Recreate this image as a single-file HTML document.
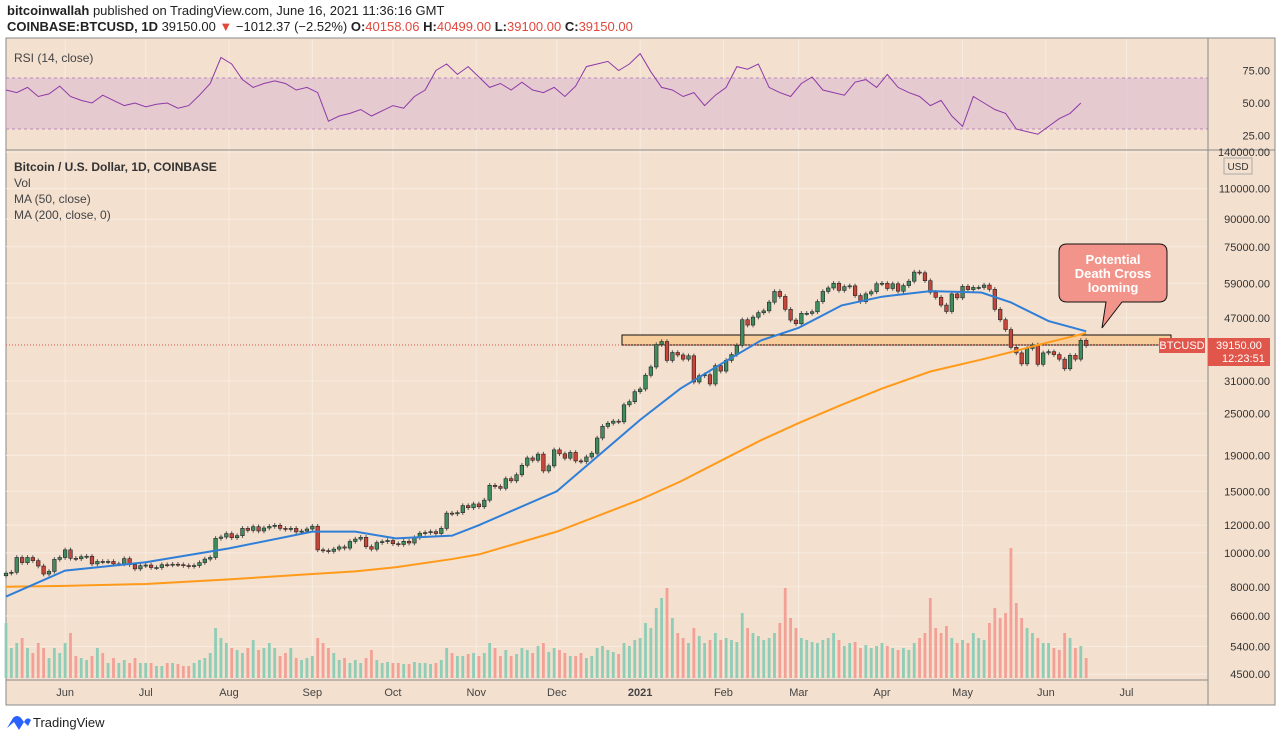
<!DOCTYPE html>
<html><head><meta charset="utf-8"><style>
body{margin:0;background:#fff;font-family:"Liberation Sans",sans-serif;}
svg text{font-family:"Liberation Sans",sans-serif;}
</style></head><body>
<svg id="c" width="1280" height="740" viewBox="0 0 1280 740" xmlns="http://www.w3.org/2000/svg">
<rect x="0" y="0" width="1280" height="740" fill="#fff"/>
<text x="7" y="15" font-size="13" fill="#222"><tspan font-weight="bold">bitcoinwallah</tspan> published on TradingView.com, June 16, 2021 11:36:16 GMT</text>
<text x="7" y="31" font-size="13" fill="#222"><tspan font-weight="bold">COINBASE:BTCUSD, 1D</tspan> 39150.00 <tspan fill="#e0483c">▼</tspan> −1012.37 (−2.52%) <tspan font-weight="bold">O:</tspan><tspan fill="#e0483c">40158.06</tspan> <tspan font-weight="bold">H:</tspan><tspan fill="#e0483c">40499.00</tspan> <tspan font-weight="bold">L:</tspan><tspan fill="#e0483c">39100.00</tspan> <tspan font-weight="bold">C:</tspan><tspan fill="#e0483c">39150.00</tspan></text>
<rect x="6" y="38" width="1269" height="667" fill="#f3e0cf" stroke="#8a8a8a"/>
<g id="grid"></g>
<rect x="6" y="78" width="1202" height="51" fill="#d9b8d0" opacity="0.55"/>
<line x1="6" y1="78" x2="1208" y2="78" stroke="#b98bb8" stroke-dasharray="3,3"/>
<line x1="6" y1="129" x2="1208" y2="129" stroke="#b98bb8" stroke-dasharray="3,3"/>
<line x1="6" y1="150" x2="1275" y2="150" stroke="#8a8a8a"/>
<line x1="1208" y1="38" x2="1208" y2="705" stroke="#8a8a8a"/>
<line x1="6" y1="680" x2="1208" y2="680" stroke="#8a8a8a"/>
<text x="14" y="62" font-size="12" fill="#444">RSI (14, close)</text>
<text x="14" y="171" font-size="12" fill="#333" font-weight="bold">Bitcoin / U.S. Dollar, 1D, COINBASE</text>
<text x="14" y="187" font-size="12" fill="#444">Vol</text>
<text x="14" y="203" font-size="12" fill="#444">MA (50, close)</text>
<text x="14" y="219" font-size="12" fill="#444">MA (200, close, 0)</text>
<g id="vol"></g>
<rect x="622" y="335" width="549" height="10" fill="#f8cd9c" stroke="#111"/>
<line x1="6" y1="345" x2="1160" y2="345" stroke="#d9534a" stroke-dasharray="1,2"/>
<g id="candles"></g>
<polyline id="ma200" fill="none" stroke="#ff9a1a" stroke-width="2"/>
<polyline id="ma50" fill="none" stroke="#2f7fd8" stroke-width="2"/>
<polyline id="rsi" fill="none" stroke="#8e3aa8" stroke-width="1"/>
<g id="axis"></g>
<g>
<path d="M1067,244 H1159 Q1167,244 1167,252 V294 Q1167,302 1159,302 H1122 L1102,328 L1106,302 H1067 Q1059,302 1059,294 V252 Q1059,244 1067,244 Z" fill="#f2948a" stroke="#111"/>
<text x="1113" y="264" font-size="13" font-weight="bold" fill="#fff" text-anchor="middle">Potential</text>
<text x="1113" y="278" font-size="13" font-weight="bold" fill="#fff" text-anchor="middle">Death Cross</text>
<text x="1113" y="292" font-size="13" font-weight="bold" fill="#fff" text-anchor="middle">looming</text>
</g>
<rect x="1159" y="338" width="46" height="15" fill="#e0564a"/>
<text x="1182" y="349" font-size="11" fill="#fff" text-anchor="middle">BTCUSD</text>
<rect x="1208" y="338" width="62" height="28" fill="#e0564a"/>
<text x="1216" y="349" font-size="11" fill="#fff">39150.00</text>
<text x="1222" y="362" font-size="11" fill="#fff">12:23:51</text>
<rect x="1224" y="158" width="28" height="16" fill="#f3e0cf" stroke="#aaa"/>
<text x="1238" y="170" font-size="10" fill="#333" text-anchor="middle">USD</text>
<g>
<path d="M7,728 L13,718 Q17,714 21,718 L24,722 Q27,716 31,720 L28,726 L24,722 L19,730 L14,722 Z" fill="#2962ff"/>
<text x="33" y="727" font-size="13" fill="#222">TradingView</text>
</g>
</svg>
<script>
const closes=[8750,8800,9700,9380,9700,9500,9170,8700,8850,9580,9700,
10200,9650,9620,9750,9780,9300,9450,9430,9450,9300,9300,9630,9250,9000,9190,
9230,9080,9080,9250,9240,9280,9250,9200,9150,9200,9380,9600,9700,11000,11100,11350,
11050,11200,11750,11600,11880,11550,11780,11900,11990,11750,11680,11750,11480,11540,11700,
11920,10200,10150,10100,10250,10400,10320,10780,10950,11080,10420,10250,10700,10770,10850,
10620,10570,10790,10670,11060,11380,11430,11500,11360,11750,12990,12930,13030,13650,13460,13800,
13550,14150,15600,15480,15300,16300,16070,16720,17800,18680,18400,19160,17150,17730,19700,
19200,18650,19370,18320,18250,18800,19270,21300,23000,23480,23800,23700,26500,27050,28900,
29400,32200,34000,39400,40200,35500,37400,36800,35800,36600,30800,32100,32300,30400,34300,33100,
35500,36900,39200,46400,44800,47200,48600,49200,52100,55900,54100,49700,46300,45200,
48400,48400,48900,52300,55900,57200,59000,56300,57700,58000,54400,52300,55000,55800,58800,
59000,57000,58800,56000,58100,59800,63500,63200,60000,55600,53800,51100,49000,55000,53600,
57800,56600,57400,57400,58300,56700,49700,46400,43500,38700,37300,34700,38400,39300,34600,37300,
37600,36900,35800,33600,36700,35800,40500,39150];
const volumes=[55,30,35,40,30,25,35,30,20,30,25,
35,45,22,20,18,22,30,25,15,20,15,18,15,20,15,
15,15,12,12,15,15,14,12,12,15,18,20,25,50,40,35,
30,28,25,30,38,28,30,35,30,22,25,30,20,18,20,
22,40,35,30,25,18,20,15,18,15,20,28,18,15,16,
15,15,14,14,16,15,15,14,15,18,30,25,22,22,24,25,
22,25,35,30,22,28,22,24,30,28,25,32,35,26,30,
28,25,22,22,25,20,22,30,32,28,26,24,35,32,38,
40,55,50,70,80,90,60,45,40,35,50,42,35,38,45,38,
40,38,36,65,50,45,42,38,40,45,55,90,60,50,
40,38,36,35,38,40,45,38,32,35,36,30,33,30,32,
35,32,30,28,30,28,35,40,45,80,50,45,52,40,35,
38,35,45,40,38,55,70,60,65,130,75,60,50,45,40,35,
35,30,28,45,40,30,32,20];
const rsiValues=[60,58,62,55,57,63,55,52,50,56,52,48,50,47,49,50,46,48,56,65,
85,80,68,62,65,67,65,60,62,58,36,40,42,45,40,44,48,46,55,60,
75,80,72,78,70,62,65,60,66,60,58,62,55,63,78,80,82,75,80,88,
74,62,60,55,58,48,56,62,78,76,80,62,58,55,65,70,60,58,56,66,
68,62,72,62,58,55,48,52,40,32,55,50,45,42,30,28,26,32,38,42,50];
const maDays=[0,22,52,83,114,130,145,166,176,205,236,251,267,281,295,311,326,344,363,374,388,402];
const ma50=[7500,8900,9400,10300,11500,11500,11000,11200,12000,15000,24000,29500,35000,40500,44000,51000,54000,56000,55500,52000,46000,43000];
const ma200=[8000,8050,8150,8400,8700,8850,9100,9600,9900,11500,14200,16000,18500,21000,23500,26500,29500,33000,35700,37500,40000,42500];
const priceTicks=[140000,110000,90000,75000,59000,47000,31000,25000,19000,15000,12000,10000,8000,6600,5400,4500];
const rsiTicks=[75,50,25];
const monthLabels=["Jun","Jul","Aug","Sep","Oct","Nov","Dec","2021","Feb","Mar","Apr","May","Jun","Jul"];
const monthDays=[22,52,83,114,144,175,205,236,267,295,326,356,387,417];

const NS="http://www.w3.org/2000/svg";
const xScale=d=>6+d*2.687;
const yScale=p=>152+(Math.log(140000)-Math.log(p))*151.9;
const rsiY=v=>103-(v-50)*1.3;
const volY=v=>678-v;
function mk(tag,attrs,parent){const e=document.createElementNS(NS,tag);for(const k in attrs)e.setAttribute(k,attrs[k]);parent.appendChild(e);return e;}
const grid=document.getElementById('grid'),axis=document.getElementById('axis');
monthDays.forEach((d,i)=>{
  const g=mk('line',{x1:xScale(d),x2:xScale(d),y1:39,y2:680,stroke:'#f8ece1','stroke-width':1},grid);
  
  
  const t=mk('text',{x:xScale(d),y:696,'font-size':11,fill:'#444','text-anchor':'middle'},axis);
  if(monthLabels[i]==='2021')t.setAttribute('font-weight','bold');
  t.textContent=monthLabels[i];
  
  
});
priceTicks.forEach(p=>{
  const y=yScale(p);
  const g=mk('line',{x1:6,x2:1208,y1:y,y2:y,stroke:'#f8ece1'},grid);
  
  
  const t=mk('text',{x:1270,y:y+4,'font-size':11,fill:'#333','text-anchor':'end'},axis);
  t.textContent=p.toFixed(2);
  
  
});
rsiTicks.forEach(v=>{
  const t=mk('text',{x:1270,y:rsiY(v)+4,'font-size':11,fill:'#333','text-anchor':'end'},axis);
  t.textContent=v.toFixed(2);
  
  
});
const cg=document.getElementById('candles'),vg=document.getElementById('vol');
closes.forEach((c,i)=>{
  const o=i?closes[i-1]:8600;
  const up=c>=o;
  const x=xScale(i*2);
  const hi=Math.max(o,c)*1.015,lo=Math.min(o,c)*0.985;
  const w=mk('line',{x1:x,x2:x,y1:yScale(hi),y2:yScale(lo),stroke:'#555','stroke-width':1},cg);
  
  
  const yt=yScale(Math.max(o,c)),yb=yScale(Math.min(o,c));
  const b=mk('rect',{x:x-1.8,y:yt,width:3.6,height:Math.max(1,yb-yt),fill:up?'#3f8d5f':'#c6463a',stroke:'#222','stroke-width':0.6},cg);
  
  
  const v=volumes[i];
  const vb=mk('rect',{x:x-1.4,y:volY(v),width:2.8,height:v,fill:up?'#8fcdb7':'#f3a197'},vg);
  
  
});
document.getElementById('ma50').setAttribute('points',maDays.map((d,i)=>xScale(d)+','+yScale(ma50[i])).join(' '));
document.getElementById('ma200').setAttribute('points',maDays.map((d,i)=>xScale(d)+','+yScale(ma200[i])).join(' '));
document.getElementById('rsi').setAttribute('points',rsiValues.map((v,i)=>xScale(i*4)+','+rsiY(v)).join(' '));
</script>
</body></html>
